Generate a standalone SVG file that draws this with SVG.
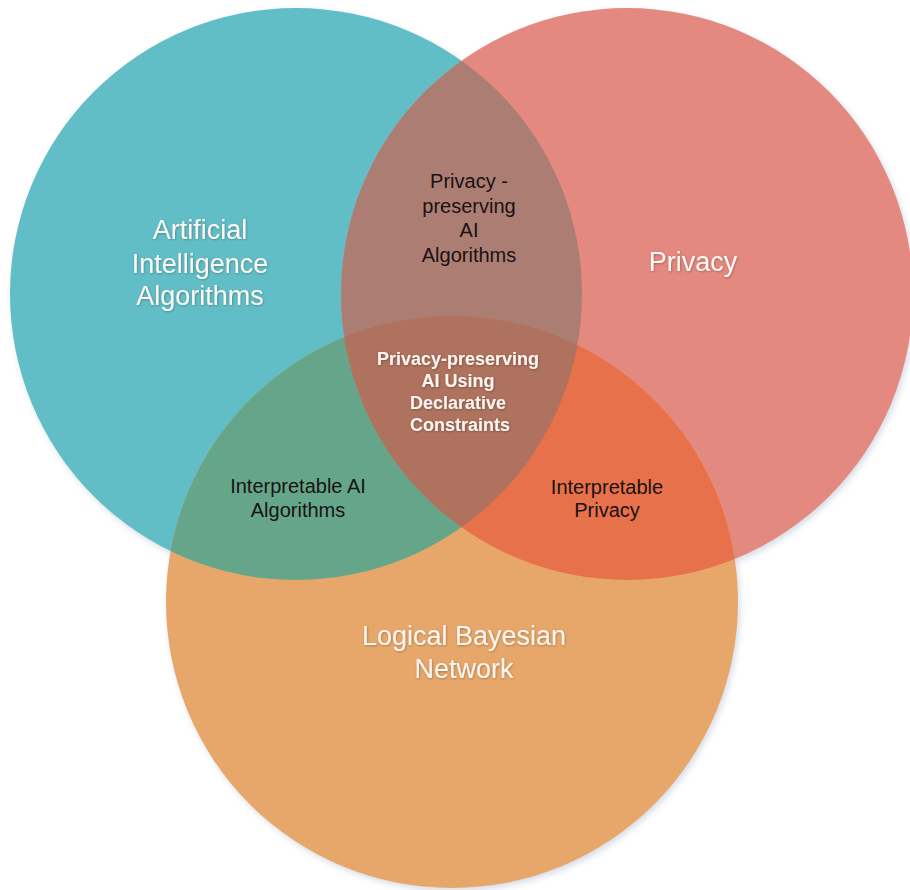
<svg xmlns="http://www.w3.org/2000/svg" width="910" height="890" viewBox="0 0 910 890">
  <style>
    .big { font-family: "Liberation Sans", Arial, sans-serif; font-size: 27px; fill: #fdf6f2; text-anchor: middle; filter: url(#tshadow); }
    .dark { font-family: "Liberation Sans", Arial, sans-serif; font-size: 20px; fill: #1a1212; text-anchor: middle; }
    .bold { font-family: "Liberation Sans", Arial, sans-serif; font-size: 18px; font-weight: bold; fill: #fdf6f2; text-anchor: middle; filter: url(#tshadow); }
  </style>
  <defs>
    <clipPath id="clipA"><circle cx="296" cy="294" r="286"/></clipPath>
    <clipPath id="clipB"><circle cx="627" cy="294" r="286"/></clipPath>
    <filter id="cshadow" x="-10%" y="-10%" width="120%" height="120%">
      <feGaussianBlur stdDeviation="3"/>
    </filter>
    <filter id="tshadow" x="-10%" y="-30%" width="120%" height="160%">
      <feDropShadow dx="0.6" dy="0.8" stdDeviation="0.8" flood-color="#000000" flood-opacity="0.3"/>
    </filter>
  </defs>
  <rect width="910" height="890" fill="#ffffff"/>

  <g id="shadows" fill="#b4bfd2" opacity="0.55" filter="url(#cshadow)">
    <circle cx="298" cy="297" r="286"/>
    <circle cx="629" cy="297" r="286"/>
    <circle cx="454" cy="605" r="286"/>
  </g>

  <g id="node-ai">
    <circle cx="296" cy="294" r="286" fill="#62bec6"/>
    <text class="big" x="200" y="239">Artificial</text>
    <text class="big" x="200" y="273">Intelligence</text>
    <text class="big" x="200" y="305">Algorithms</text>
  </g>

  <g id="node-privacy">
    <circle cx="627" cy="294" r="286" fill="#e3897f"/>
    <text class="big" x="693" y="271">Privacy</text>
  </g>

  <g id="node-lbn">
    <circle cx="452" cy="602" r="286" fill="#e8a76a"/>
    <text class="big" x="464" y="645">Logical Bayesian</text>
    <text class="big" x="464" y="678">Network</text>
  </g>

  <g id="overlap-ai-privacy">
    <g clip-path="url(#clipA)"><circle cx="627" cy="294" r="286" fill="#ac7d73"/></g>
    <text class="dark" x="469" y="188">Privacy -</text>
    <text class="dark" x="469" y="213">preserving</text>
    <text class="dark" x="469" y="237">AI</text>
    <text class="dark" x="469" y="262">Algorithms</text>
  </g>

  <g id="overlap-ai-lbn">
    <g clip-path="url(#clipA)"><circle cx="452" cy="602" r="286" fill="#65a68a"/></g>
    <text class="dark" x="298" y="493">Interpretable AI</text>
    <text class="dark" x="298" y="517">Algorithms</text>
  </g>

  <g id="overlap-privacy-lbn">
    <g clip-path="url(#clipB)"><circle cx="452" cy="602" r="286" fill="#e7714b"/></g>
    <text class="dark" x="607" y="494">Interpretable</text>
    <text class="dark" x="607" y="517">Privacy</text>
  </g>

  <g id="overlap-all">
    <g clip-path="url(#clipA)"><g clip-path="url(#clipB)"><circle cx="452" cy="602" r="286" fill="#ae725e"/></g></g>
    <text class="bold" x="458" y="365">Privacy-preserving</text>
    <text class="bold" x="458" y="387">AI Using</text>
    <text class="bold" x="458" y="409">Declarative</text>
    <text class="bold" x="460" y="431">Constraints</text>
  </g>
</svg>
